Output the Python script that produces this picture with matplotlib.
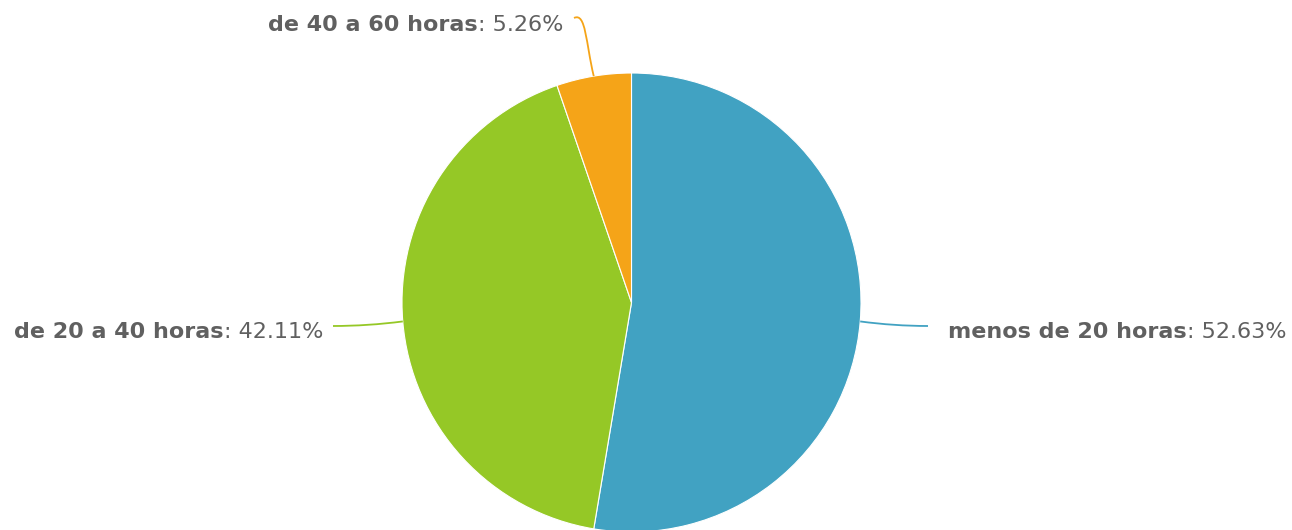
import numpy as np
import matplotlib
matplotlib.use("Agg")
import matplotlib.pyplot as plt
from matplotlib.path import Path as MPath
from matplotlib.patches import PathPatch

categories = ["menos de 20 horas", "de 20 a 40 horas", "de 40 a 60 horas"]
percentages = [52.63, 42.11, 5.26]
colors = ["#41A2C2", "#95C826", "#F5A418"]

W, H = 1292, 530
CX, CY, R = 631.5, H - 302.5, 229.5
TEXT_COLOR = "#606060"
FS = 16
plt.rcParams["font.family"] = ["DejaVu Sans"]

# label anchor (connector end, text x, text baseline y) in pixel coords (y from top)
label_layout = [
    {"end": (928, 326), "tx": 948, "ty": 337.5, "ha": "left"},
    {"end": (333, 326), "tx": 323, "ty": 337.5, "ha": "right"},
    {"end": (574, 18), "tx": 563, "ty": 31, "ha": "right"},
]

fig = plt.figure(figsize=(W / 100, H / 100), dpi=100)
ax = fig.add_axes([0, 0, 1, 1])

wedges, _ = ax.pie(percentages, colors=colors, startangle=90, counterclock=False,
                   center=(CX, CY), radius=R,
                   wedgeprops=dict(edgecolor="white", linewidth=0.8))
ax.set_xlim(0, W)
ax.set_ylim(0, H)
ax.set_aspect("equal")
ax.axis("off")

for w, pct, cat, lay, col in zip(wedges, percentages, categories, label_layout, colors):
    mid = np.deg2rad((w.theta1 + w.theta2) / 2)
    sx, sy = CX + R * np.cos(mid), CY + R * np.sin(mid)
    ex, ey = lay["end"][0], H - lay["end"][1]
    if lay["ty"] < 100:
        # top label: rises then hooks left
        verts = [(sx, sy), (sx - 8, ey - 25), (ex + 12, ey + 6), (ex, ey)]
        codes = [MPath.MOVETO, MPath.CURVE4, MPath.CURVE4, MPath.CURVE4]
    else:
        verts = [(sx, sy), (sx + 0.5 * (ex - sx), ey), (ex, ey)]
        codes = [MPath.MOVETO, MPath.CURVE3, MPath.CURVE3]
    ax.add_patch(PathPatch(MPath(verts, codes), fc="none", ec=col, lw=1.3))

    ty = H - lay["ty"]
    value_txt = f": {pct:.2f}%"
    if lay["ha"] == "left":
        t1 = ax.text(lay["tx"], ty, cat, fontsize=FS, fontweight="bold",
                     color=TEXT_COLOR, ha="left", va="baseline")
        ax.annotate(value_txt, xy=(1, 0), xycoords=t1, fontsize=FS,
                    color=TEXT_COLOR, ha="left", va="bottom")
    else:
        t1 = ax.text(lay["tx"], ty, value_txt, fontsize=FS,
                     color=TEXT_COLOR, ha="right", va="baseline")
        ax.annotate(cat, xy=(0, 0), xycoords=t1, fontsize=FS, fontweight="bold",
                    color=TEXT_COLOR, ha="right", va="bottom")

fig.savefig("out.png", dpi=100)
